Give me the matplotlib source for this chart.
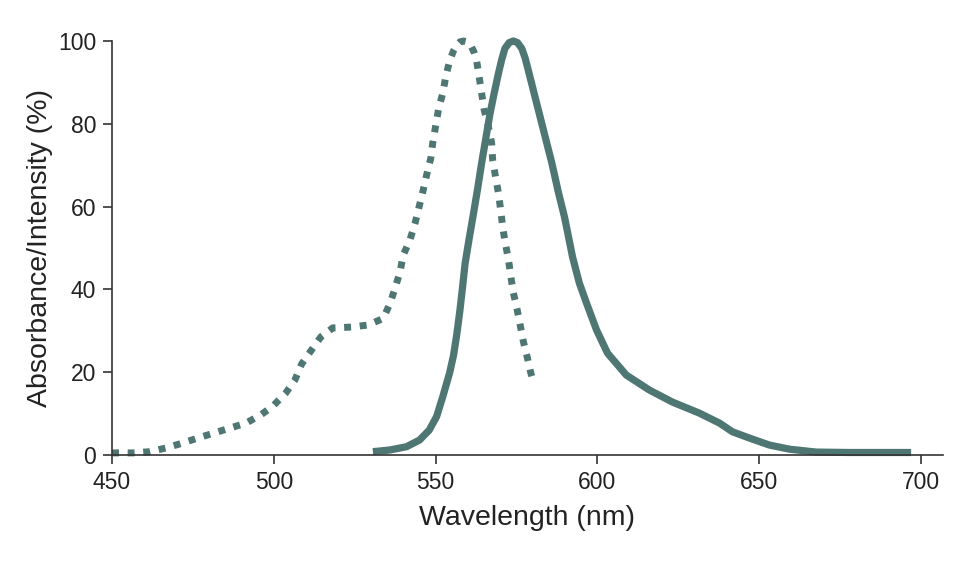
import matplotlib
matplotlib.use("Agg")
import matplotlib.pyplot as plt

plt.rcParams['font.family'] = ['Liberation Sans', 'DejaVu Sans']

# absorbance (dotted)
abs_wl = [450.0, 456.5, 461.7, 466.7, 471.9, 476.5, 481.5, 486.4, 491.4, 496.0,
          499.7, 503.7, 506.5, 508.6, 511.4, 514.5, 518.2, 524.0, 529.2, 533.8,
          535.9, 537.5, 539.0, 540.0, 542.1, 543.6, 544.8, 546.0, 547.2, 548.5,
          549.1, 550.0, 550.9, 552.2, 553.1, 554.3, 555.5, 556.5, 557.5, 558.6,
          559.7, 560.8, 561.8, 562.7, 563.5, 564.2, 565.0, 566.3, 567.3, 567.6,
          568.5, 569.4, 570.1, 570.7, 571.5, 572.5, 573.2, 574.0, 575.1, 576.1,
          577.1, 578.3, 579.4, 580.2]
abs_val = [0.5, 0.5, 0.8, 1.7, 2.9, 4.1, 5.3, 6.5, 7.7, 9.7,
           11.8, 15.0, 18.1, 22.0, 25.1, 28.5, 30.7, 30.9, 31.4, 33.0,
           36.6, 40.4, 44.3, 48.3, 52.1, 55.9, 59.7, 63.5, 67.6, 71.7,
           75.4, 79.5, 83.6, 87.4, 91.3, 95.2, 97.6, 99.0, 99.8, 100.0,
           99.8, 99.0, 97.4, 95.0, 91.0, 87.4, 83.3, 79.3, 75.3, 71.3,
           67.2, 63.2, 59.1, 55.1, 51.2, 47.2, 43.2, 39.2, 35.4, 31.4,
           27.4, 23.6, 19.8, 17.7]

# emission (solid)
em_wl = [530.6, 535.8, 541.0, 545.0, 548.0, 550.3, 552.2, 554.3, 555.5, 556.5,
         557.5, 558.3, 559.1, 560.4, 561.7, 563.0, 564.2, 565.5, 566.8, 568.1,
         569.4, 570.4, 571.4, 572.7, 574.0, 575.3, 576.6, 577.6, 578.6, 580.7,
         583.3, 585.9, 587.9, 589.8, 590.4, 592.3, 594.4, 596.6, 599.7, 603.1,
         608.9, 616.0, 623.1, 631.5, 637.7, 641.7, 646.9, 653.1, 659.3, 667.6,
         677.8, 696.9]
em_val = [0.8, 1.2, 2.0, 3.6, 6.0, 9.3, 14.1, 19.8, 24.0, 29.0,
          35.0, 40.5, 46.3, 52.5, 58.4, 64.5, 70.5, 76.5, 82.5, 87.5,
          92.2, 95.5, 98.2, 99.6, 100.0, 99.6, 98.2, 96.0, 93.0, 86.5,
          78.5, 70.5, 63.5, 57.5, 55.2, 47.8, 41.5, 36.7, 30.2, 24.6,
          19.3, 15.7, 12.8, 10.1, 7.7, 5.6, 4.1, 2.4, 1.4, 0.7,
          0.6, 0.6]

color = '#4e7673'

fig = plt.figure(figsize=(9.75, 5.64), dpi=100)
ax = fig.add_axes([0.1149, 0.1933, 0.967 - 0.1149, 0.9273 - 0.1933])

ax.plot(abs_wl, abs_val, color=color, lw=5, ls=(0, (1, 1.25)),
        dash_capstyle='butt', solid_joinstyle='round', clip_on=False)
ax.plot(em_wl, em_val, color=color, lw=5.2, solid_capstyle='butt',
        solid_joinstyle='round', clip_on=False)

ax.set_xlim(450, 706.7)
ax.set_ylim(0, 100)
ax.set_xticks([450, 500, 550, 600, 650, 700])
ax.set_yticks([0, 20, 40, 60, 80, 100])

for s in ('top', 'right'):
    ax.spines[s].set_visible(False)
for s in ('left', 'bottom'):
    ax.spines[s].set_color('#333333')
    ax.spines[s].set_linewidth(1.2)
ax.tick_params(direction='out', length=6.5, width=1.2, color='#333333',
               labelsize=16.5, labelcolor='#222222', pad=5)

ax.set_xlabel('Wavelength (nm)', fontsize=20.5, color='#222222', labelpad=8)
ax.set_ylabel('Absorbance/Intensity (%)', fontsize=20.5, color='#222222', labelpad=3.5)

fig.savefig('out.png', dpi=100)
